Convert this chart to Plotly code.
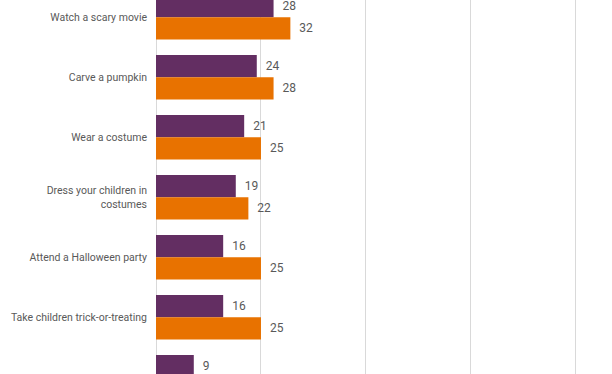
import plotly.graph_objects as go

categories = [
    "Watch a scary movie",
    "Carve a pumpkin",
    "Wear a costume",
    "Dress your children in<br>costumes",
    "Attend a Halloween party",
    "Take children trick-or-treating",
    "Visit a haunted house",
]
series_a = [28, 24, 21, 19, 16, 16, 9]
series_b = [32, 28, 25, 22, 25, 25, None]

PURPLE = "#632e62"
ORANGE = "#e87200"
TEXT = "#595959"

fig = go.Figure()
fig.add_trace(go.Bar(
    y=categories, x=series_a, orientation="h", name="A",
    marker=dict(color=PURPLE, line=dict(width=0)),
    text=[f"  {v}" if v is not None else "" for v in series_a],
    textposition="outside", cliponaxis=False,
    textfont=dict(family="Roboto", size=12, color=TEXT),
))
fig.add_trace(go.Bar(
    y=categories, x=series_b, orientation="h", name="B",
    marker=dict(color=ORANGE, line=dict(width=0)),
    text=[f"  {v}" if v is not None else "" for v in series_b],
    textposition="outside", cliponaxis=False,
    textfont=dict(family="Roboto", size=12, color=TEXT),
))

fig.update_layout(
    width=612, height=374,
    margin=dict(l=156, r=34, t=0, b=0),
    barmode="group", bargap=0.26, bargroupgap=0,
    plot_bgcolor="white", paper_bgcolor="white",
    showlegend=False,
    font=dict(family="Roboto", color=TEXT),
    xaxis=dict(range=[0, 100.5], tickvals=[0, 25, 50, 75, 100], showgrid=True,
               gridcolor="#d9d9d9", gridwidth=1, zeroline=True,
               zerolinecolor="#d9d9d9", zerolinewidth=1,
               showticklabels=False, showline=False, fixedrange=True),
    yaxis=dict(type="category", range=[5.945, -0.288], showgrid=False,
               tickfont=dict(family="Roboto", size=10.5, color=TEXT),
               ticklabelstandoff=8, showline=False, automargin=False,
               fixedrange=True),
)

fig.write_html("out.html", config={"displayModeBar": False},
               post_script="document.body.style.margin='0';")
